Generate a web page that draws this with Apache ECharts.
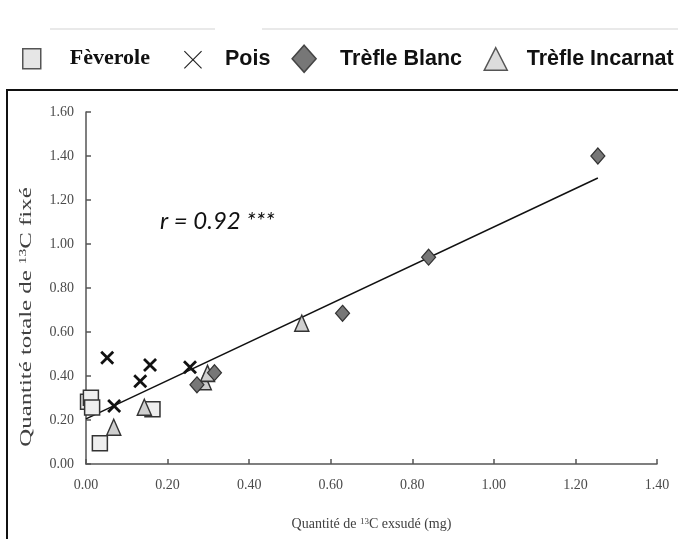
<!DOCTYPE html>
<html>
<head>
<meta charset="utf-8">
<script src="https://cdn.jsdelivr.net/npm/echarts@6/dist/echarts.min.js"></script>
<style>html,body{margin:0;padding:0;background:#fff}#c{width:678px;height:539px}</style>
</head>
<body>
<div id="c"></div>
<script>
// ---- data ----
var seriesNames = ['Fèverole', 'Pois', 'Trèfle Blanc', 'Trèfle Incarnat'];
var feverole = [[0.005, 0.283], [0.012, 0.301], [0.015, 0.257], [0.034, 0.094], [0.163, 0.249]];
var pois = [[0.052, 0.483], [0.069, 0.264], [0.133, 0.376], [0.157, 0.450], [0.255, 0.440]];
var trefleBlanc = [[0.272, 0.360], [0.315, 0.415], [0.629, 0.685], [0.840, 0.940], [1.255, 1.400]];
var trefleIncarnat = [[0.068, 0.167], [0.143, 0.258], [0.290, 0.374], [0.298, 0.412], [0.529, 0.640]];
var fitLine = [[0.0, 0.205], [1.255, 1.300]];
var xTicks = [0, 0.2, 0.4, 0.6, 0.8, 1.0, 1.2, 1.4];
var yTicks = [0, 0.2, 0.4, 0.6, 0.8, 1.0, 1.2, 1.4, 1.6];
var xTitle = 'Quantité de {sup|13}C exsudé (mg)';
var yTitle = 'Quantité totale de {sup|13}C fixé';
var annotation = 'r = 0.92 ***';

var xPath = 'path://M0,1.4L1.4,0L5,3.6L8.6,0L10,1.4L6.4,5L10,8.6L8.6,10L5,6.4L1.4,10L0,8.6L3.6,5Z';
// legend icons drawn inside a 26x28 box (corner points fix the box)
var corners = 'M0,0L0,0.01M26,28L26,27.99';
var legSquare = 'path://' + corners + 'M2,4h18v20h-18z';
var legX = 'path://' + corners + 'M4,6.8L4.8,6L13,14.2L21.2,6L22,6.8L13.8,15L22,23.2L21.2,24L13,15.8L4.8,24L4,23.2L12.2,15Z';
var legDiamond = 'path://' + corners + 'M13,0.5L25,14L13,27.5L1,14Z';
var legTriangle = 'path://' + corners + 'M13,3L24.5,25.5H1.5Z';

var chart = echarts.init(document.getElementById('c'), null, {renderer: 'canvas'});
var serif = '"Liberation Serif", "Times New Roman", serif';
var sans = '"Liberation Sans", Arial, sans-serif';

var option = {
  animation: false,
  backgroundColor: '#ffffff',
  grid: {left: 86, right: 21, top: 112, bottom: 75, containLabel: false},
  legend: {
    left: 15, top: 39, width: 720,
    itemWidth: 26, itemHeight: 28, itemGap: 20,
    selectedMode: false,
    data: [
      {name: seriesNames[0], icon: legSquare,
       itemStyle: {color: '#e6e6e6', borderColor: '#555', borderWidth: 1.5},
       textStyle: {fontFamily: serif, fontWeight: 'bold', fontSize: 22, color: '#111', padding: [0, 10, 0, 18],
         backgroundColor: 'rgba(255,255,255,0)'}},
      {name: seriesNames[1], icon: legX,
       itemStyle: {color: '#222', borderWidth: 0},
       textStyle: {fontFamily: sans, fontWeight: 'bold', fontSize: 21.5, color: '#111', padding: [0, 0, 0, 14]}},
      {name: seriesNames[2], icon: legDiamond,
       itemStyle: {color: '#777', borderColor: '#444', borderWidth: 1.5},
       textStyle: {fontFamily: sans, fontWeight: 'bold', fontSize: 21.5, color: '#111', padding: [0, 0, 0, 18]}},
      {name: seriesNames[3], icon: legTriangle,
       itemStyle: {color: '#dcdcdc', borderColor: '#555', borderWidth: 1.5},
       textStyle: {fontFamily: sans, fontWeight: 'bold', fontSize: 21.5, color: '#111', padding: [0, 0, 0, 13]}}
    ]
  },
  xAxis: {
    type: 'value', min: xTicks[0], max: xTicks[xTicks.length - 1], interval: 0.2,
    name: xTitle, nameLocation: 'middle', nameGap: 53,
    nameTextStyle: {fontFamily: serif, fontSize: 14, color: '#404040',
      rich: {sup: {fontFamily: serif, fontSize: 9, color: '#404040', padding: [0, 0, 6, 0]}}},
    axisLine: {show: true, onZero: false, lineStyle: {color: '#555', width: 1.5}},
    axisTick: {show: true, inside: true, length: 5, lineStyle: {color: '#555', width: 1.5}},
    axisLabel: {margin: 14, fontFamily: serif, fontSize: 14, color: '#4a4a4a',
      formatter: function (v) { return v.toFixed(2); }},
    splitLine: {show: false}
  },
  yAxis: {
    type: 'value', min: yTicks[0], max: yTicks[yTicks.length - 1], interval: 0.2,
    axisLine: {show: true, onZero: false, lineStyle: {color: '#555', width: 1.5}},
    axisTick: {show: true, inside: true, length: 5, lineStyle: {color: '#555', width: 1.5}},
    axisLabel: {margin: 12, fontFamily: serif, fontSize: 14, color: '#4a4a4a',
      formatter: function (v) { return v.toFixed(2); }},
    splitLine: {show: false}
  },
  graphic: [
    {type: 'rect', silent: true, z: 100,
     shape: {x: 7, y: 90, width: 700, height: 470},
     style: {fill: 'none', stroke: '#111', lineWidth: 2}},
    {type: 'line', silent: true, shape: {x1: 50, y1: 29, x2: 215, y2: 29}, style: {stroke: '#e2e2e2', lineWidth: 1.5}},
    {type: 'line', silent: true, shape: {x1: 262, y1: 29, x2: 678, y2: 29}, style: {stroke: '#e2e2e2', lineWidth: 1.5}},
    {type: 'text', silent: true, x: 27, y: 317, rotation: Math.PI / 2, scaleX: 1.55,
     style: {text: yTitle, fontFamily: serif, fontSize: 16, fill: '#404040', align: 'center', verticalAlign: 'middle',
       rich: {sup: {fontFamily: serif, fontSize: 10, fill: '#404040', padding: [0, 0, 7, 0]}}}},
    {type: 'text', silent: true, left: 160, top: 209,
     style: {text: annotation, fontFamily: 'Lato, "Noto Sans", sans-serif', fontStyle: 'italic', fontSize: 24, fill: '#111'}}
  ],
  series: [
    {name: 'fit', type: 'line', data: fitLine, symbol: 'none', silent: true, z: 1,
     lineStyle: {color: '#111', width: 1.5}},
    {name: seriesNames[1], type: 'scatter', data: pois, symbol: xPath, symbolSize: 14, z: 3,
     itemStyle: {color: '#111', borderWidth: 0, opacity: 1}},
    {name: seriesNames[0], type: 'scatter', data: feverole, symbol: 'rect', symbolSize: 15, z: 2,
     itemStyle: {color: '#eeeeee', borderColor: '#333', borderWidth: 1.5, opacity: 1}},
    {name: seriesNames[3], type: 'scatter', data: trefleIncarnat, symbol: 'triangle', symbolSize: [14, 16], z: 4,
     itemStyle: {color: '#cfcfcf', borderColor: '#333', borderWidth: 1.5, opacity: 1}},
    {name: seriesNames[2], type: 'scatter', data: trefleBlanc, symbol: 'diamond', symbolSize: [14, 16], z: 4,
     itemStyle: {color: '#777777', borderColor: '#333', borderWidth: 1.2, opacity: 1}}
  ]
};
chart.setOption(option);
</script>
</body>
</html>
